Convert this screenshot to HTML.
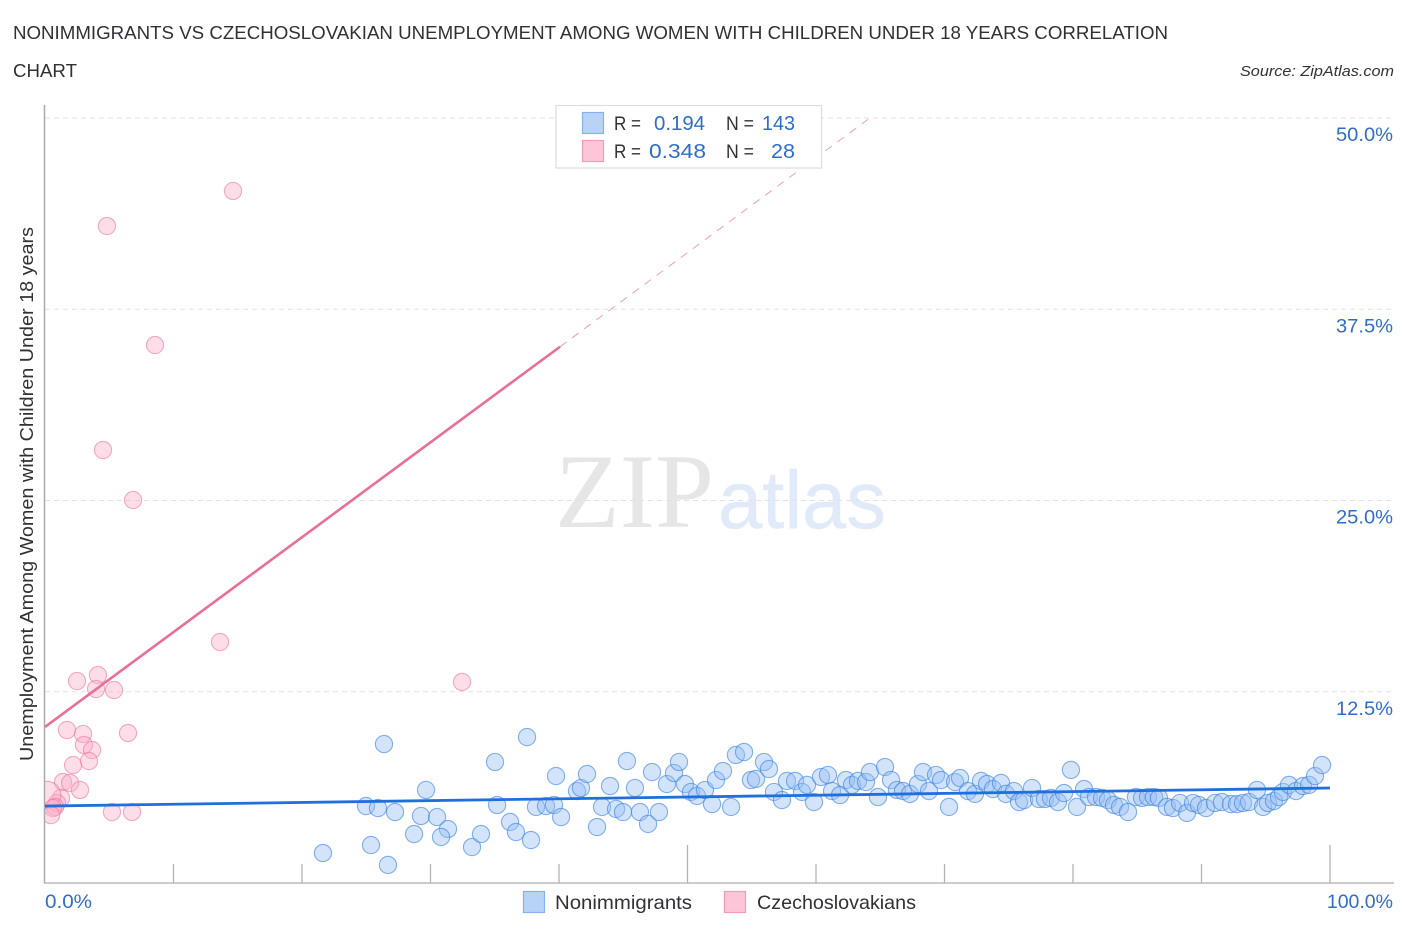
<!DOCTYPE html>
<html>
<head>
<meta charset="utf-8">
<style>
html,body{margin:0;padding:0;background:#fff;width:1406px;height:930px;overflow:hidden}
svg{display:block;font-family:"Liberation Sans",sans-serif}
</style>
</head>
<body>
<svg id="chart" width="1406" height="930" viewBox="0 0 1406 930" xmlns="http://www.w3.org/2000/svg">
<defs><clipPath id="plot-clip"><rect x="45" y="100" width="1349" height="783"/></clipPath></defs>
<text x="13" y="39" font-size="18.5" fill="#2f3136" textLength="1155" lengthAdjust="spacingAndGlyphs">NONIMMIGRANTS VS CZECHOSLOVAKIAN UNEMPLOYMENT AMONG WOMEN WITH CHILDREN UNDER 18 YEARS CORRELATION</text>
<text x="13" y="77" font-size="18.5" fill="#2f3136" textLength="64" lengthAdjust="spacingAndGlyphs">CHART</text>
<text x="1394" y="76" font-size="15" font-style="italic" fill="#333" text-anchor="end" textLength="154" lengthAdjust="spacingAndGlyphs">Source: ZipAtlas.com</text>
<g>
<text x="555" y="527" font-family="'Liberation Serif',serif" font-size="106" fill="#e6e6e6" textLength="159" lengthAdjust="spacingAndGlyphs">ZIP</text>
<text x="718" y="528" font-family="'Liberation Sans',sans-serif" font-size="82" fill="#e0eaf8" stroke="#e0eaf8" stroke-width="0.4" textLength="168" lengthAdjust="spacingAndGlyphs">atlas</text>
</g>
<g id="grid"></g>
<g id="axes">
<line x1="44.5" y1="105" x2="44.5" y2="883.5" stroke="#aaa" stroke-width="1.5"/>
<line x1="44" y1="883" x2="1394" y2="883" stroke="#bbb" stroke-width="1.5"/>
</g>
<g id="blue-points" clip-path="url(#plot-clip)"></g>
<g id="pink-points" clip-path="url(#plot-clip)"></g>
<g id="trends"></g>
<text transform="translate(33,761) rotate(-90)" font-size="18" fill="#2f3136" textLength="534" lengthAdjust="spacingAndGlyphs">Unemployment Among Women with Children Under 18 years</text>
<g id="tick-labels"></g>
<g>
<rect x="556" y="105.5" width="265.5" height="62.5" fill="#fff" stroke="#ddd" stroke-width="1.2"/>
<rect x="582.5" y="112.5" width="21" height="21" fill="#b8d3f6" stroke="#84b2ec" stroke-width="1.2"/>
<rect x="582.5" y="140.5" width="21" height="21" fill="#fcc6d8" stroke="#f29cba" stroke-width="1.2"/>
<g font-size="20">
<text x="614" y="130" fill="#2f3136" font-size="19" textLength="27" lengthAdjust="spacingAndGlyphs">R =</text>
<text x="654" y="130" fill="#2f6dc9" font-size="20.5" textLength="51" lengthAdjust="spacingAndGlyphs">0.194</text>
<text x="726" y="130" fill="#2f3136" font-size="19" textLength="28" lengthAdjust="spacingAndGlyphs">N =</text>
<text x="762" y="130" fill="#2f6dc9" font-size="20.5" textLength="33" lengthAdjust="spacingAndGlyphs">143</text>
<text x="614" y="158" fill="#2f3136" font-size="19" textLength="27" lengthAdjust="spacingAndGlyphs">R =</text>
<text x="649" y="158" fill="#2f6dc9" font-size="20.5" textLength="57" lengthAdjust="spacingAndGlyphs">0.348</text>
<text x="726" y="158" fill="#2f3136" font-size="19" textLength="28" lengthAdjust="spacingAndGlyphs">N =</text>
<text x="771" y="158" fill="#2f6dc9" font-size="20.5" textLength="24" lengthAdjust="spacingAndGlyphs">28</text>
</g>
</g>
<g>
<rect x="523.5" y="891.5" width="21" height="21" fill="#b8d3f6" stroke="#84b2ec" stroke-width="1.2"/>
<text x="555" y="909" font-size="19.5" fill="#2f3136" textLength="137" lengthAdjust="spacingAndGlyphs">Nonimmigrants</text>
<rect x="724.5" y="891.5" width="21" height="21" fill="#fcc6d8" stroke="#f29cba" stroke-width="1.2"/>
<text x="757" y="909" font-size="19.5" fill="#2f3136" textLength="159" lengthAdjust="spacingAndGlyphs">Czechoslovakians</text>
</g>
</svg>
<script>
const xTickValues = [10,20,30,40,50,60,70,80,90,100];
const xMajorTicks = [50,100];
const yTickValues = [12.5,25,37.5,50];
const yTickLabels = ['12.5%','25.0%','37.5%','50.0%'];
const xEndLabels = ['0.0%','100.0%'];

const nonimmigrantsX = [21.63,25.37,26.69,26.38,24.98,25.91,27.24,29.65,29.26,30.51,31.36,28.72,30.82,33.23,33.93,36.19,36.65,37.82,35.02,35.18,37.51,38.21,38.99,39.61,40.16,39.77,41.40,41.71,42.18,43.35,42.96,43.97,44.44,44.98,45.29,45.91,46.30,46.93,47.78,47.24,48.40,48.95,49.34,49.80,50.27,50.74,51.36,51.91,53.39,52.22,52.76,53.77,54.40,54.94,55.33,55.95,56.34,56.73,57.35,57.74,58.37,58.91,59.30,59.84,60.39,60.93,61.25,61.87,62.33,62.80,63.27,63.89,64.20,64.82,65.37,65.84,66.30,66.77,67.31,67.94,68.33,68.79,69.34,69.73,70.35,70.82,71.21,71.83,72.37,72.84,73.31,73.77,74.40,74.78,75.41,75.80,76.19,76.81,77.35,77.82,78.29,78.83,79.30,79.84,80.31,80.86,81.24,81.79,82.26,82.72,83.19,83.66,84.28,84.90,85.37,85.84,86.30,86.69,87.31,87.78,88.33,88.87,89.34,89.80,90.35,91.05,91.59,92.29,92.76,93.23,93.70,94.32,94.79,95.17,95.64,96.03,96.34,96.81,97.35,97.90,98.37,98.83,99.38];
const nonimmigrantsY = [1.96,2.48,1.18,9.08,5.03,4.90,4.64,6.08,4.38,4.31,3.53,3.20,3.01,2.35,3.20,3.99,3.33,2.81,7.91,5.10,9.54,4.97,5.03,5.10,4.31,6.99,6.01,6.21,7.12,4.97,3.66,6.34,4.84,4.64,7.97,6.21,4.64,3.86,4.64,7.25,6.47,7.19,7.91,6.47,5.95,5.69,6.08,5.16,4.97,6.73,7.32,8.37,8.56,6.73,6.80,7.91,7.45,5.95,5.42,6.67,6.67,5.95,6.41,5.29,6.93,7.06,6.01,5.75,6.73,6.41,6.67,6.60,7.25,5.62,7.58,6.73,6.08,6.01,5.82,6.47,7.25,6.01,7.06,6.73,4.97,6.60,6.86,6.01,5.82,6.67,6.47,6.14,6.54,5.82,6.01,5.29,5.42,6.21,5.49,5.49,5.56,5.29,5.88,7.39,4.97,6.14,5.62,5.62,5.56,5.42,5.10,4.97,4.64,5.62,5.56,5.62,5.62,5.56,4.97,4.90,5.23,4.58,5.23,5.10,4.90,5.23,5.29,5.16,5.16,5.23,5.29,6.08,4.97,5.23,5.36,5.62,5.95,6.41,6.01,6.34,6.41,6.99,7.71];

const czechoslovakiansX = [14.63,4.82,8.56,4.51,6.85,13.62,32.45,4.12,2.49,3.97,5.37,1.71,2.96,6.46,3.03,3.66,3.42,2.18,1.40,1.95,2.72,1.25,0.93,0.16,0.78,0.62,0.47,5.21,6.77];
const czechoslovakiansY = [45.23,42.94,35.16,28.30,25.03,15.75,13.14,13.59,13.20,12.68,12.61,10.00,9.74,9.80,9.02,8.69,7.97,7.71,6.60,6.54,6.08,5.56,5.23,5.75,4.97,4.90,4.44,4.64,4.64];
const czechoslovakiansWeight = [1,1,1,1,1,1,1,1,1,1,1,1,1,1,1,1,1,1,1,1,1,1,1,1.6,1,1,1,1,1];

const nonimmigrantsTrend = [5.03, 0.0118];
const czechoslovakiansTrend = [10.2, 0.62];
const solidEndCzech = [40.08];
const dashedEndCzech = [64.2];

const NS = 'http://www.w3.org/2000/svg';
function xScale(v){ return 45 + v * 12.85; }
function yScale(v){ return 883 - v * 15.3; }
function mk(parent, tag, attrs){
  const el = document.createElementNS(NS, tag);
  for (const k in attrs) el.setAttribute(k, attrs[k]);
  document.getElementById(parent).appendChild(el);
  return el;
}

yTickValues.forEach(function(v, i){
  const g = mk('grid', 'line', {x1:45, x2:1394, y1:yScale(v), y2:yScale(v), stroke:'#e2e2e2', 'stroke-width':1, 'stroke-dasharray':'5 4'});
  
  
  const t = mk('tick-labels', 'text', {x:1393, y:yScale(v)+23, 'font-size':19.5, fill:'#2f6dc9', 'text-anchor':'end', textLength:57, lengthAdjust:'spacingAndGlyphs'});
  t.textContent = yTickLabels[i];
  
  
});

xTickValues.forEach(function(v){
  const top = xMajorTicks.indexOf(v) >= 0 ? 845 : 864;
  const l = mk('axes', 'line', {x1:xScale(v), x2:xScale(v), y1:top, y2:883, stroke:'#b4b4b4', 'stroke-width':1.3});
  
  
});

const t0 = mk('tick-labels', 'text', {x:45, y:908, 'font-size':19.5, fill:'#2f6dc9', textLength:47, lengthAdjust:'spacingAndGlyphs'});
t0.textContent = xEndLabels[0];


const t1 = mk('tick-labels', 'text', {x:1393, y:908, 'font-size':19.5, fill:'#2f6dc9', 'text-anchor':'end'});
t1.textContent = xEndLabels[1];



nonimmigrantsX.forEach(function(x, i){
  const c = mk('blue-points', 'circle', {cx:xScale(x), cy:yScale(nonimmigrantsY[i]), r:8.6, fill:'rgba(150,190,242,0.42)', stroke:'rgba(60,130,225,0.62)', 'stroke-width':1.1});
  
  
});
czechoslovakiansX.forEach(function(x, i){
  const c = mk('pink-points', 'circle', {cx:xScale(x), cy:yScale(czechoslovakiansY[i]), r:8.6*czechoslovakiansWeight[i], fill:'rgba(250,175,200,0.42)', stroke:'rgba(235,120,160,0.6)', 'stroke-width':1.1});
  
  
});

function trendY(tr, x){ return tr[0] + tr[1] * x; }
const dashLine = mk('trends', 'line', {x1:xScale(solidEndCzech[0]), y1:yScale(trendY(czechoslovakiansTrend, solidEndCzech[0])), x2:xScale(dashedEndCzech[0]), y2:yScale(trendY(czechoslovakiansTrend, dashedEndCzech[0])), stroke:'#ee9dbb', 'stroke-width':1, 'stroke-dasharray':'8 7'});


const pinkLine = mk('trends', 'line', {x1:xScale(0), y1:yScale(trendY(czechoslovakiansTrend, 0)), x2:xScale(solidEndCzech[0]), y2:yScale(trendY(czechoslovakiansTrend, solidEndCzech[0])), stroke:'#e86f9b', 'stroke-width':2.6});


const blueLine = mk('trends', 'line', {x1:xScale(0), y1:yScale(trendY(nonimmigrantsTrend, 0)), x2:xScale(100), y2:yScale(trendY(nonimmigrantsTrend, 100)), stroke:'#1f6fdc', 'stroke-width':2.8});


</script>
</body>
</html>
